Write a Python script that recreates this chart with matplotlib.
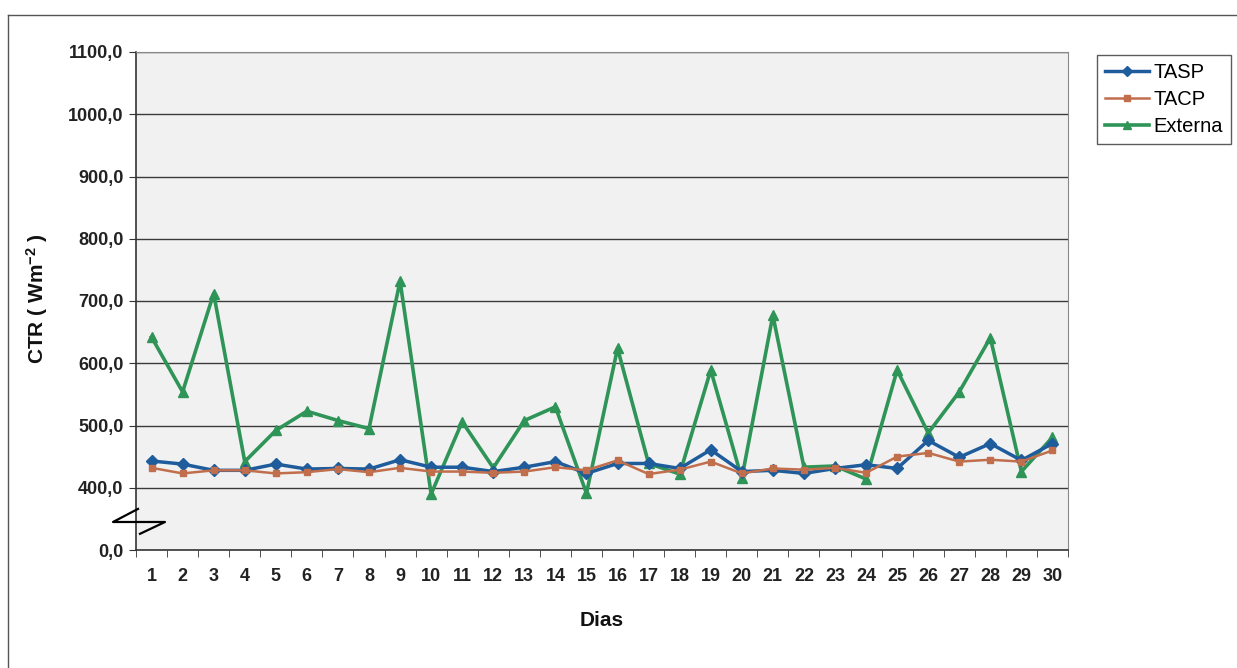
import matplotlib
matplotlib.use("Agg")
import matplotlib.pyplot as plt
import matplotlib.transforms as mtransforms
from matplotlib.lines import Line2D

plt.rcParams['font.family'] = ['Liberation Sans', 'DejaVu Sans']
plt.rcParams['mathtext.fontset'] = 'custom'
plt.rcParams['mathtext.rm'] = 'Liberation Sans:bold'
plt.rcParams['mathtext.bf'] = 'Liberation Sans:bold'
plt.rcParams['mathtext.it'] = 'Liberation Sans:bold'

dias = list(range(1, 31))
tasp = [443, 438, 428, 428, 438, 430, 431, 430, 445, 433,
        433, 426, 433, 442, 423, 439, 439, 431, 461, 426,
        428, 423, 431, 437, 431, 476, 449, 471, 444, 471]
tacp = [432, 423, 428, 428, 423, 425, 430, 425, 432, 426,
        426, 424, 426, 433, 428, 444, 422, 429, 442, 423,
        431, 429, 432, 424, 450, 456, 442, 445, 442, 460]
externa = [642, 554, 712, 442, 492, 523, 508, 495, 732, 390,
           506, 432, 508, 530, 391, 624, 439, 422, 589, 415,
           677, 433, 435, 414, 589, 488, 554, 641, 426, 481]

# Broken axis: the "0,0" tick sits one step below 400
ytick_pos = [300, 400, 500, 600, 700, 800, 900, 1000, 1100]
ytick_labels = ["0,0", "400,0", "500,0", "600,0", "700,0", "800,0", "900,0", "1000,0", "1100,0"]

W, H = 1237, 668
fig = plt.figure(figsize=(W / 100, H / 100), dpi=100)
fig.patch.set_facecolor('white')

# outer chart border
fig.add_artist(Line2D([8 / W, 1.0], [1 - 15 / H, 1 - 15 / H], transform=fig.transFigure,
                      color='#555555', lw=1.0))
fig.add_artist(Line2D([8 / W, 8 / W], [0, 1 - 15 / H], transform=fig.transFigure,
                      color='#555555', lw=1.0))

left, right, top, bottom = 136, 1068, 52, 550
ax = fig.add_axes([left / W, 1 - bottom / H, (right - left) / W, (bottom - top) / H])
ax.set_facecolor('#f1f1f1')

c_tasp = '#1f5c9c'
c_tacp = '#c06e4c'
c_ext = '#2f9457'

ax.plot(dias, externa, color=c_ext, lw=2.6, marker='^', ms=7, label='Externa', zorder=3)
ax.plot(dias, tasp, color=c_tasp, lw=2.5, marker='D', ms=6, label='TASP', zorder=4)
ax.plot(dias, tacp, color=c_tacp, lw=1.8, marker='s', ms=5, label='TACP', zorder=5)

ax.set_xlim(0.5, 30.5)
ax.set_ylim(300, 1100)

ax.set_yticks(ytick_pos)
ax.set_yticklabels(ytick_labels)
for yv in ytick_pos[1:]:
    ax.axhline(yv, color='#3a3a3a', lw=1.0, zorder=1)

ax.set_xticks(dias)
ax.set_xticklabels([str(d) for d in dias])
ax.set_xticks([d + 0.5 for d in range(0, 31)], minor=True)
ax.tick_params(axis='x', which='major', length=0, pad=13, labelsize=13)
ax.tick_params(axis='x', which='minor', length=5, direction='out', color='#333333')
ax.tick_params(axis='y', length=5, direction='out', pad=4, labelsize=13, color='#333333')
for lbl in ax.get_xticklabels() + ax.get_yticklabels():
    lbl.set_fontweight('bold')
    lbl.set_color('#222222')

for s in ['left', 'bottom']:
    ax.spines[s].set_color('#333333')
    ax.spines[s].set_linewidth(1.2)
for s in ['top', 'right']:
    ax.spines[s].set_color('#888888')
    ax.spines[s].set_linewidth(0.8)

# axis break symbol
trans = mtransforms.blended_transform_factory(ax.transAxes, ax.transData)
aw = right - left
bx = [2 / aw, -23 / aw, 29 / aw, 4 / aw]
by = [366, 345, 345, 326]
ax.add_artist(Line2D(bx, by, transform=trans, color='black', lw=1.6, clip_on=False, zorder=6))

fig.text((left + right) / 2 / W, 1 - 620 / H, 'Dias', ha='center', va='center',
         fontsize=15, fontweight='bold', color='#111111')
fig.text(37 / W, 1 - 299 / H, 'CTR ( Wm$^{-2}$ )', ha='center', va='center',
         rotation=90, fontsize=15, fontweight='bold', color='#111111')

handles, labels = ax.get_legend_handles_labels()
order = [1, 2, 0]
leg = fig.legend([handles[i] for i in order], [labels[i] for i in order],
                 loc='upper left', bbox_to_anchor=(1097 / W, 1 - 55 / H),
                 bbox_transform=fig.transFigure, borderaxespad=0, fancybox=False,
                 frameon=True, fontsize=14.5, handlelength=2.2, handletextpad=0.2,
                 labelspacing=0.4, borderpad=0.4, markerscale=0.8)
leg.get_frame().set_edgecolor('#333333')
leg.get_frame().set_linewidth(1.0)

fig.savefig('out.png', dpi=100, facecolor='white')
